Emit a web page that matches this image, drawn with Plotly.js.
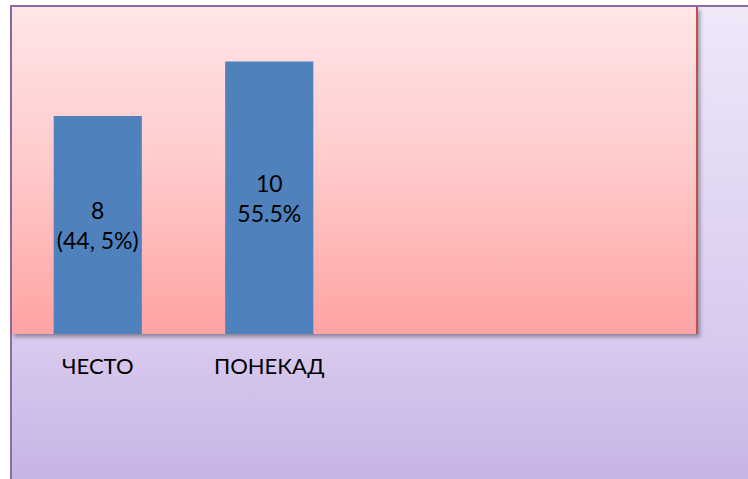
<!DOCTYPE html>
<html>
<head>
<meta charset="utf-8">
<script src="https://cdn.plot.ly/plotly-3.0.1.min.js"></script>
<style>
  html, body { margin: 0; padding: 0; background: #ffffff; }
  #wrap { position: relative; width: 748px; height: 479px; overflow: hidden; }
  #outer {
    position: absolute; left: 10px; top: 5px; width: 760px; height: 472px;
    border-left: 2px solid #8E6BA8; border-top: 2px solid #8E6BA8; border-bottom: 1px solid #A58BC4;
    background: linear-gradient(to bottom, #EEE9F9 0%, #D8C9EE 72%, #C7B4E6 100%);
  }
  #inner {
    position: absolute; left: 12px; top: 7px; width: 684px; height: 327px;
    border-right: 2px solid #C0504D;
    background: linear-gradient(to bottom, #FFE6E7 0%, #FFC9CA 50%, #FFA3A3 100%);
    box-shadow: 2px 3px 4px rgba(0,0,0,0.35);
  }
  #chart { position: absolute; left: 0; top: 0; width: 748px; height: 479px; }
</style>
</head>
<body>
<div id="wrap">
  <div id="outer"></div>
  <div id="inner"></div>
  <div id="chart"></div>
</div>
<script>
const categories = ['ЧЕСТО', 'ПОНЕКАД'];
const values = [8, 10];
const valueLabels = ['8<br>(44, 5%)', '10<br>55.5%'];

const trace = {
  type: 'bar',
  x: categories,
  y: values,
  text: valueLabels,
  textposition: 'inside',
  insidetextanchor: 'middle',
  textangle: 0,
  texttemplate: '%{text}',
  textfont: { family: 'Lato, sans-serif', size: 23, color: '#000000' },
  marker: { color: '#4F81BD', line: { width: 0 } },
  hoverinfo: 'none'
};

const layout = {
  width: 748,
  height: 479,
  margin: { l: 12, r: 50, t: 7, b: 145, pad: 0 },
  paper_bgcolor: 'rgba(0,0,0,0)',
  plot_bgcolor: 'rgba(0,0,0,0)',
  showlegend: false,
  bargap: 0.486,
  xaxis: {
    type: 'category',
    range: [-0.5, 3.5],
    showgrid: false,
    zeroline: false,
    showline: false,
    ticks: 'outside',
    ticklen: 13,
    tickcolor: 'rgba(0,0,0,0)',
    tickfont: { family: 'Lato, sans-serif', size: 22, color: '#000000' }
  },
  yaxis: {
    range: [0, 12],
    visible: false,
    showgrid: false,
    zeroline: false
  }
};

Plotly.newPlot('chart', [trace], layout, { displayModeBar: false, staticPlot: true });
</script>
</body>
</html>
